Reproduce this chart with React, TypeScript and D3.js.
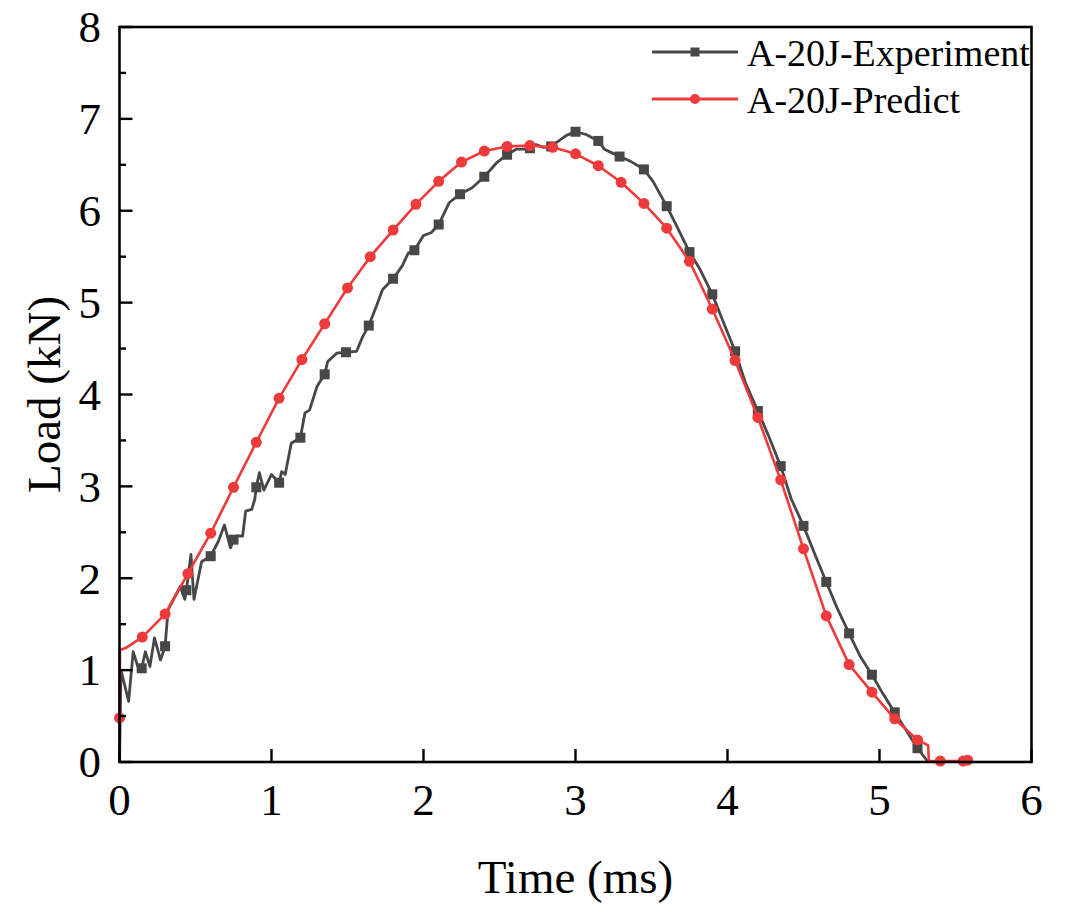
import { useMemo } from "react";
import * as d3 from "d3";

// Experiment (gray, squares) – vertices
const expTime = [
  0, 0.01, 0.06, 0.09, 0.12, 0.146, 0.17, 0.2, 0.23, 0.27, 0.3, 0.32, 0.4, 0.43, 0.44, 0.47, 0.49, 0.54, 0.6,
  0.65, 0.69, 0.73, 0.75, 0.77, 0.81, 0.83, 0.87, 0.89, 0.9, 0.92, 0.95, 1.0, 1.05, 1.067, 1.09, 1.13, 1.19,
  1.22, 1.25, 1.3, 1.35, 1.37, 1.43, 1.49, 1.56, 1.6, 1.64, 1.69, 1.73, 1.8, 1.86, 1.9, 1.94, 2.0, 2.05, 2.1,
  2.17, 2.24, 2.32, 2.4, 2.48, 2.55, 2.61, 2.66, 2.7, 2.74, 2.79, 2.84, 2.89, 2.94, 3.0, 3.07, 3.15, 3.19,
  3.24, 3.29, 3.36, 3.45, 3.51, 3.6, 3.67, 3.75, 3.82, 3.9, 3.97, 4.05, 4.12, 4.2, 4.27, 4.35, 4.42, 4.5,
  4.57, 4.65, 4.72, 4.8, 4.87, 4.95, 5.02, 5.1, 5.17, 5.25, 5.32,
];
const expLoad = [
  0, 1.0, 0.66, 1.2, 1.04, 1.02, 1.2, 1.04, 1.35, 1.11, 1.26, 1.66, 1.91, 1.77, 1.87, 2.26, 1.77, 2.18, 2.24,
  2.4, 2.58, 2.33, 2.42, 2.46, 2.46, 2.73, 2.75, 2.86, 2.99, 3.15, 2.96, 3.13, 3.04, 3.16, 3.13, 3.47, 3.53,
  3.8, 3.83, 4.09, 4.22, 4.36, 4.45, 4.46, 4.47, 4.63, 4.75, 4.96, 5.14, 5.26, 5.4, 5.54, 5.57, 5.73, 5.76, 5.85,
  6.09, 6.18, 6.25, 6.37, 6.52, 6.61, 6.67, 6.67, 6.68, 6.72, 6.69, 6.7, 6.76, 6.82, 6.86, 6.83, 6.76, 6.67,
  6.63, 6.59, 6.54, 6.45, 6.32, 6.05, 5.82, 5.55, 5.36, 5.09, 4.8, 4.47, 4.12, 3.82, 3.55, 3.22, 2.86, 2.57,
  2.28, 1.96, 1.68, 1.4, 1.16, 0.95, 0.75, 0.54, 0.36, 0.15, 0,
];
const expMarkTimes = [
  0.146, 0.3, 0.44, 0.6, 0.75, 0.9, 1.05, 1.19, 1.35, 1.49, 1.64, 1.8, 1.94, 2.1, 2.24, 2.4, 2.55, 2.7, 2.84,
  3.0, 3.15, 3.29, 3.45, 3.6, 3.75, 3.9, 4.05, 4.2, 4.35, 4.5, 4.65, 4.8, 4.95, 5.1, 5.25,
];

// Predict (red, circles)
const predictTime = [
  0, 0.003, 0.04, 0.15, 0.3, 0.45, 0.6, 0.75, 0.9, 1.05, 1.2, 1.35, 1.5, 1.65, 1.8, 1.95, 2.1, 2.25, 2.4, 2.55,
  2.7, 2.85, 3.0, 3.15, 3.3, 3.45, 3.6, 3.75, 3.9, 4.05, 4.2, 4.35, 4.5, 4.65, 4.8, 4.95, 5.1, 5.25, 5.32,
  5.325, 5.4, 5.55, 5.58,
];
const predictLoad = [
  0.48, 1.22, 1.24, 1.36, 1.61, 2.05, 2.49, 2.99, 3.48, 3.96, 4.38, 4.77, 5.16, 5.5, 5.79, 6.07, 6.32, 6.53,
  6.65, 6.7, 6.71, 6.69, 6.62, 6.49, 6.31, 6.08, 5.81, 5.45, 4.93, 4.37, 3.75, 3.07, 2.32, 1.59, 1.06, 0.76,
  0.47, 0.24, 0.18, 0.01, 0.01, 0.01, 0.02,
];
const predictNoMarker = [1, 2, 38, 39];

const xTicks = [0, 1, 2, 3, 4, 5, 6];
const yTicks = [0, 1, 2, 3, 4, 5, 6, 7, 8];
const yMinorTicks = [0.5, 1.5, 2.5, 3.5, 4.5, 5.5, 6.5, 7.5];
const seriesNames = ["A-20J-Experiment", "A-20J-Predict"];

const W = 1080;
const H = 916;
const FONT = "'Liberation Serif', 'Times New Roman', serif";
const GRAY = "#474747";
const RED = "#ee3a3a";

export default function App() {
  const left = 119.5, right = 1031.5, top = 27, bottom = 762;

  const x = useMemo(() => d3.scaleLinear().domain([0, 6]).range([left, right]), []);
  const y = useMemo(() => d3.scaleLinear().domain([0, 8]).range([bottom, top]), []);

  const expPts = expTime.map((t, i) => [t, expLoad[i]] as [number, number]);
  const predPts = predictTime.map((t, i) => [t, predictLoad[i]] as [number, number]);

  const line = d3.line<[number, number]>().x((d) => x(d[0])).y((d) => y(d[1]));

  const expMarks = expMarkTimes.map((t) => {
    const i = expTime.indexOf(t);
    return [t, expLoad[i]] as [number, number];
  });
  const predMarks = predPts.filter((_, i) => !predictNoMarker.includes(i));

  const sq = 10;
  const r = 5.5;

  return (
    <svg width={W} height={H} style={{ position: "absolute", left: 0, top: 0, background: "#fff" }} fontFamily={FONT}>
      <rect x={0} y={0} width={W} height={H} fill="#fff" />

      {/* series */}
      <path d={line(expPts) ?? ""} fill="none" stroke={GRAY} strokeWidth={2.8} strokeLinejoin="round" />
      {expMarks.map((d, i) => (
        <rect key={`es-${i}`} x={x(d[0]) - sq / 2} y={y(d[1]) - sq / 2} width={sq} height={sq} fill={GRAY} />
      ))}
      <path d={line(predPts) ?? ""} fill="none" stroke={RED} strokeWidth={2.6} strokeLinejoin="round" />
      {predMarks.map((d, i) => (
        <circle key={`pc-${i}`} cx={x(d[0])} cy={y(d[1])} r={r} fill={RED} />
      ))}

      {/* frame */}
      <rect x={left} y={top} width={right - left} height={bottom - top} fill="none" stroke="#000" strokeWidth={2.6} />

      {/* x ticks */}
      {xTicks.map((v) => (
        <g key={`xt-${v}`}>
          <line x1={x(v)} x2={x(v)} y1={bottom} y2={bottom - 13} stroke="#000" strokeWidth={2.4} />
          <text x={x(v)} y={815} textAnchor="middle" fontSize={45}>{v}</text>
        </g>
      ))}

      {/* y ticks */}
      {yTicks.map((v) => (
        <g key={`yt-${v}`}>
          <line x1={left} x2={left + 13} y1={y(v)} y2={y(v)} stroke="#000" strokeWidth={2.4} />
          <text x={101} y={y(v)} dy="0.34em" textAnchor="end" fontSize={45}>{v}</text>
        </g>
      ))}
      {yMinorTicks.map((v) => (
        <line key={`ym-${v}`} x1={left} x2={left + 6.5} y1={y(v)} y2={y(v)} stroke="#000" strokeWidth={2.4} />
      ))}

      {/* axis titles */}
      <text x={(left + right) / 2} y={893} textAnchor="middle" fontSize={47}>Time (ms)</text>
      <text transform={`translate(60, ${(top + bottom) / 2}) rotate(-90)`} textAnchor="middle" fontSize={47}>Load (kN)</text>

      {/* legend */}
      {seriesNames.map((name, i) => {
        const ly = 52 + i * 47;
        const c = i === 0 ? GRAY : RED;
        return (
          <g key={name}>
            <line x1={652} x2={738} y1={ly} y2={ly} stroke={c} strokeWidth={2.8} />
            {i === 0 ? (
              <rect x={695 - 4.5} y={ly - 4.5} width={9} height={9} fill={c} />
            ) : (
              <circle cx={695} cy={ly} r={5} fill={c} />
            )}
            <text x={747} y={ly + 13.5} fontSize={38}>{name}</text>
          </g>
        );
      })}
    </svg>
  );
}
